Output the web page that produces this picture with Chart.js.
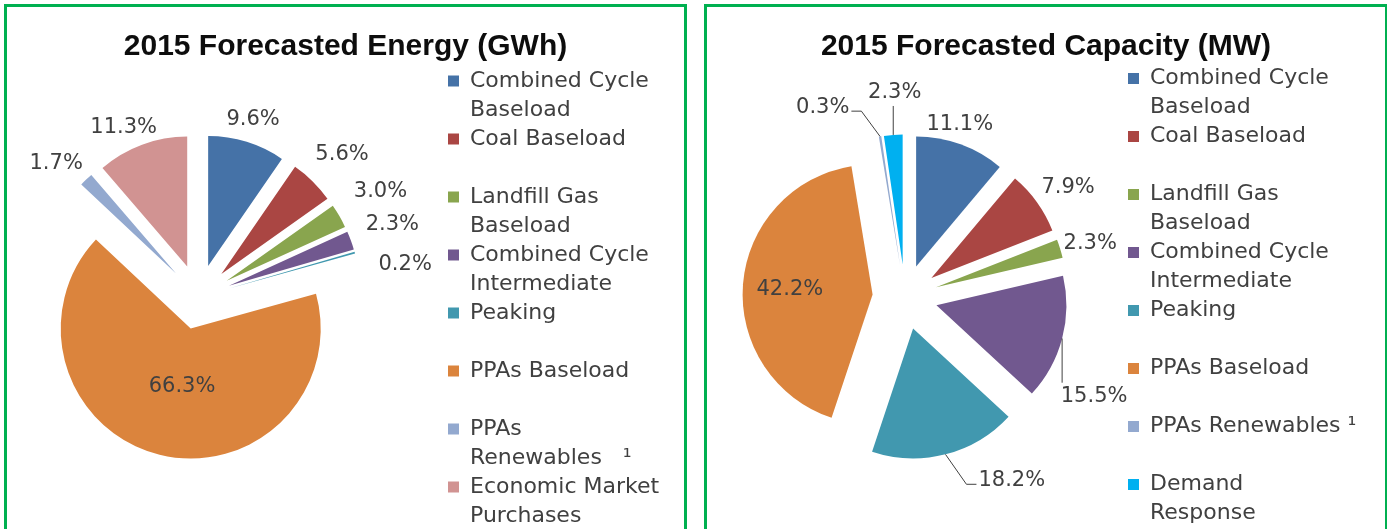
<!DOCTYPE html>
<html>
<head>
<meta charset="utf-8">
<title>2015 Forecasted Energy and Capacity</title>
<script src="https://cdn.jsdelivr.net/npm/chart.js@4.4.0/dist/chart.umd.min.js"></script>
<style>
  html, body { margin: 0; padding: 0; background: #fff; width: 1387px; height: 529px; overflow: hidden; }
  .panel { position: absolute; top: 4px; height: 600px; box-sizing: border-box; border: 3px solid #00b050; overflow: hidden; background: #fff; }
  #energyPanel { left: 4px; width: 683px; }
  #capacityPanel { left: 704px; width: 684px; }
  .panel canvas { position: absolute; top: 0; }
  .panel h2 { position: absolute; left: 0; right: 0; top: 21px; margin: 0; z-index: 1; text-align: center;
              font: bold 30px/34px "Liberation Sans", Arial, sans-serif; color: #0d0d0d; }
</style>
</head>
<body>
<div class="panel" id="energyPanel">
  <h2>2015 Forecasted Energy (GWh)</h2>
  <canvas id="energyChart" width="760" height="580" style="left:-58px"></canvas>
</div>
<div class="panel" id="capacityPanel">
  <h2>2015 Forecasted Capacity (MW)</h2>
  <canvas id="capacityChart" width="700" height="580" style="left:-25px"></canvas>
</div>
<script>
// ---- Data ----
const energyLabels = [
  ['Combined Cycle', 'Baseload'],
  ['Coal Baseload', ''],
  ['Landfill Gas', 'Baseload'],
  ['Combined Cycle', 'Intermediate'],
  ['Peaking', ''],
  ['PPAs Baseload', ''],
  ['PPAs', 'Renewables   \u00b9'],
  ['Economic Market', 'Purchases'],
];
const energyShares = [9.6, 5.6, 3.0, 2.3, 0.2, 66.3, 1.7, 11.3];

const capacityLabels = [
  ['Combined Cycle', 'Baseload'],
  ['Coal Baseload', ''],
  ['Landfill Gas', 'Baseload'],
  ['Combined Cycle', 'Intermediate'],
  ['Peaking', ''],
  ['PPAs Baseload', ''],
  ['PPAs Renewables \u00b9', ''],
  ['Demand', 'Response'],
];
const capacityShares = [11.1, 7.9, 2.3, 15.5, 18.2, 42.2, 0.3, 2.3];

// ---- Styles ----
const energyColors = ['#4572a7', '#aa4643', '#89a54e', '#71588f', '#4198af', '#db843d', '#93a9cf', '#d19392'];
const capacityColors = ['#4572a7', '#aa4643', '#89a54e', '#71588f', '#4198af', '#db843d', '#93a9cf', '#00b0f0'];

// label placement ('in' = inside the slice) and hand nudges in px, like the dragged labels in the original
const energyLabelPlace = ['out', 'out', 'out', 'out', 'out', 'in', 'out', 'out'];
const energyLabelNudge = [[-4, -5], [5, -14], [11, -15], [9, -10], [17, 17], [10, -18], [-6, -3], [-4, 0]];
const energyLeaders = [false, false, false, false, false, false, false, false];

const capacityLabelPlace = ['out', 'out', 'out', 'out', 'out', 'in', 'out', 'out'];
const capacityLabelNudge = [[-15, -2], [3, -4], [-3, 0], [-8, 53], [56, 8], [-5, 1], [-52, -11], [4, -24]];
const capacityLeaders = [false, false, false, true, true, false, true, true];

const EXPLODE = 32.5;  // px each slice is pulled out from the centre
const RADIUS = 130;
const TEXT = '#404040';

// pull every slice out along its middle angle (like Excel's "point explosion")
const explode = {
  id: 'explode',
  afterDatasetUpdate(chart, args) {
    for (const arc of args.meta.data) {
      const mid = (arc.startAngle + arc.endAngle) / 2;
      arc.x += Math.cos(mid) * EXPLODE;
      arc.y += Math.sin(mid) * EXPLODE;
    }
  },
};

function sliceLabels(place, nudge, leaders) {
  return {
    id: 'sliceLabels',
    afterDatasetsDraw(chart) {
      const ctx = chart.ctx;
      const meta = chart.getDatasetMeta(0);
      const values = chart.data.datasets[0].data;
      const size = 21;
      ctx.save();
      ctx.font = size + 'px "DejaVu Sans", sans-serif';
      ctx.fillStyle = TEXT;
      ctx.strokeStyle = TEXT;
      ctx.lineWidth = 1;
      ctx.textAlign = 'center';
      ctx.textBaseline = 'middle';
      meta.data.forEach((arc, i) => {
        const mid = (arc.startAngle + arc.endAngle) / 2;
        const cos = Math.cos(mid), sin = Math.sin(mid);
        const cx = arc.x, cy = arc.y, r = arc.outerRadius;
        const text = values[i].toFixed(1) + '%';
        const w = ctx.measureText(text).width, h = size;
        const [dx, dy] = nudge[i];
        let x, y;
        if (place[i] === 'in') {
          x = cx + cos * r * 0.6 + dx;
          y = cy + sin * r * 0.6 + dy;
        } else {
          x = cx + cos * (r + 8) + cos * w / 2 + dx;
          y = cy + sin * (r + 8) + sin * h / 2 + dy;
        }
        ctx.fillText(text, x, y);

        if (leaders[i]) {
          const left = x - w / 2, right = x + w / 2, top = y - h / 2, bottom = y + h / 2;
          const ex = cx + cos * r, ey = cy + sin * r;
          ctx.beginPath();
          ctx.moveTo(ex, ey);
          if (ex >= left && ex <= right) {
            ctx.lineTo(ex, ey < top ? top - 3 : bottom + 3);
          } else if (ex < left) {
            ctx.lineTo(left - 12, y + 4);
            ctx.lineTo(left - 2, y + 4);
          } else {
            ctx.lineTo(right + 12, y + 4);
            ctx.lineTo(right + 2, y + 4);
          }
          ctx.stroke();
        }
      });
      ctx.restore();
    },
  };
}

function explodedPie(canvasId, labels, shares, colors, layout, labelPlugin) {
  const canvas = document.getElementById(canvasId);
  const options = {
    responsive: false,
    animation: false,
    events: [],
    layout: { padding: { left: 0, top: 0, bottom: 0, right: 0 } },
    plugins: {
      tooltip: { enabled: false },
      legend: {
        position: 'right',
        title: { display: true, text: '', padding: 0, font: { size: 1, lineHeight: layout.legendDrop + 'px' } },
        labels: {
          boxWidth: 11,
          boxHeight: 11,
          padding: 0,
          color: TEXT,
          font: { family: '"DejaVu Sans", sans-serif', size: 22, lineHeight: '29px' },
        },
      },
    },
  };
  const chart = new Chart(canvas.getContext('2d'), {
    type: 'pie',
    data: {
      labels,
      datasets: [{ data: shares, backgroundColor: colors, borderWidth: 0, radius: RADIUS }],
    },
    options,
    plugins: [explode, labelPlugin],
  });
  // pad the right side so the legend starts at legendX; the pie centres in what is left
  options.layout.padding.right = Math.max(0, canvas.width - layout.legendX - chart.legend.width);
  chart.update();
  return chart;
}

explodedPie('energyChart', energyLabels, energyShares, energyColors,
  { legendX: 499, legendDrop: 10 },
  sliceLabels(energyLabelPlace, energyLabelNudge, energyLeaders));

explodedPie('capacityChart', capacityLabels, capacityShares, capacityColors,
  { legendX: 446, legendDrop: 5 },
  sliceLabels(capacityLabelPlace, capacityLabelNudge, capacityLeaders));
</script>
</body>
</html>
